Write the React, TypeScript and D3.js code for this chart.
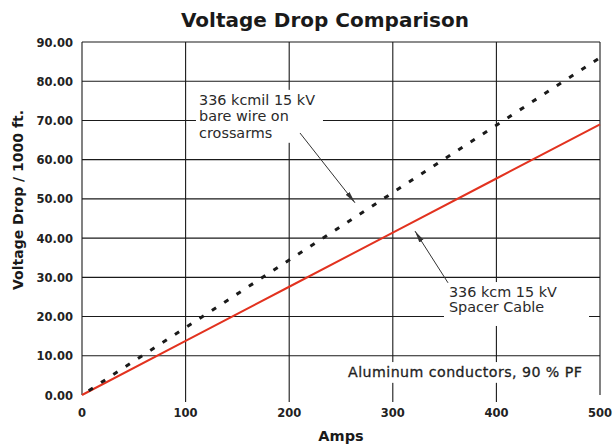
import React from "react";
import * as d3 from "d3";

const amps = [0, 100, 200, 300, 400, 500];
const spacerCable = [0, 13.8, 27.6, 41.4, 55.2, 69.0];
const bareWire = [0, 17.2, 34.4, 51.6, 68.8, 86.0];
const xTicks = [0, 100, 200, 300, 400, 500];
const yTicks = [0, 10, 20, 30, 40, 50, 60, 70, 80, 90];

const W = 613;
const H = 445;
const L = 82, R = 600, T = 42, B = 395;
const FONT = "'DejaVu Sans', 'Liberation Sans', Arial, sans-serif";

export default function App() {
  const x = d3.scaleLinear().domain([0, 500]).range([L, R]);
  const y = d3.scaleLinear().domain([0, 90]).range([B, T]);
  const line = d3
    .line<number>()
    .x((_, i) => x(amps[i]))
    .y((d) => y(d));

  const box = (x0: number, x1: number, y0: number, y1: number) => (
    <rect x={x(x0)} y={y(y1)} width={x(x1) - x(x0)} height={y(y0) - y(y1)} fill="#fff" />
  );

  return (
    <svg width={W} height={H} style={{ position: "absolute", left: 0, top: 0, background: "#fff" }}>
      <defs>
        <marker id="ah" viewBox="0 0 12 6" refX="12" refY="3" markerWidth="12" markerHeight="6" markerUnits="userSpaceOnUse" orient="auto">
          <path d="M0,0.6 L12,3 L0,5.4 Z" fill="#333" />
        </marker>
      </defs>
      <text x={325} y={27} textAnchor="middle" fontFamily={FONT} fontWeight="bold" fontSize={20} fill="#1a1a1a">
        Voltage Drop Comparison
      </text>
      {/* horizontal grid */}
      {yTicks.filter((v) => v > 0).map((v) => (
        <line key={"h" + v} x1={L} x2={R} y1={y(v)} y2={y(v)} stroke="#1a1a1a" strokeWidth={1.1} />
      ))}
      {/* vertical grid */}
      {xTicks.map((v) => (
        <line key={"v" + v} x1={x(v)} x2={x(v)} y1={T} y2={v === 0 || v === 500 ? B : B + 7} stroke="#1a1a1a" strokeWidth={1.1} />
      ))}
      {/* annotation backgrounds */}
      {box(110, 232.6, 64.3, 77.8)}
      {box(349.4, 489.4, 17.6, 28.8)}
      {box(252, 492, 3.1, 8.4)}
      {/* series */}
      <path d={line(spacerCable) || ""} fill="none" stroke="#e2321f" strokeWidth={2} />
      <path d={line(bareWire) || ""} fill="none" stroke="#1a1a1a" strokeWidth={3} strokeDasharray="5 9.7" strokeDashoffset={-8} />
      {/* y tick labels */}
      {yTicks.map((v) => (
        <text key={"yl" + v} x={73} y={y(v) + 4.5} textAnchor="end" fontFamily={FONT} fontWeight="bold" fontSize={11.5} fill="#222">
          {v.toFixed(2)}
        </text>
      ))}
      {/* x tick labels */}
      {xTicks.map((v) => (
        <text key={"xl" + v} x={x(v)} y={417} textAnchor="middle" fontFamily={FONT} fontWeight="bold" fontSize={11.5} fill="#222">
          {v}
        </text>
      ))}
      <text x={341} y={441} textAnchor="middle" fontFamily={FONT} fontWeight="bold" fontSize={14.5} fill="#1a1a1a">
        Amps
      </text>
      <text transform={`translate(23,200) rotate(-90)`} textAnchor="middle" fontFamily={FONT} fontWeight="bold" fontSize={14} fill="#1a1a1a">
        Voltage Drop / 1000 ft.
      </text>
      {/* annotations */}
      <g fontFamily={FONT} fontSize={14.4} fill="#2a2a2a">
        <text x={x(113)} y={y(73.9)}>336 kcmil 15 kV</text>
        <text x={x(113)} y={y(69.8)}>bare wire on</text>
        <text x={x(113)} y={y(65.6)}>crossarms</text>
        <text x={x(354.2)} y={y(25)}>336 kcm 15 kV</text>
        <text x={x(354.2)} y={y(21.1)}>Spacer Cable</text>
        <text x={x(256.8)} y={y(4.6)} fontSize={14.2} letterSpacing={0.45} fill="#1f1f1f" stroke="#1f1f1f" strokeWidth={0.3}>Aluminum conductors, 90 % PF</text>
      </g>
      <line x1={x(210.4)} y1={y(66.8)} x2={x(263.5)} y2={y(49)} stroke="#333" strokeWidth={1} markerEnd="url(#ah)" />
      <line x1={x(353.3)} y1={y(28.6)} x2={x(321.4)} y2={y(41.8)} stroke="#333" strokeWidth={1} markerEnd="url(#ah)" />
    </svg>
  );
}
